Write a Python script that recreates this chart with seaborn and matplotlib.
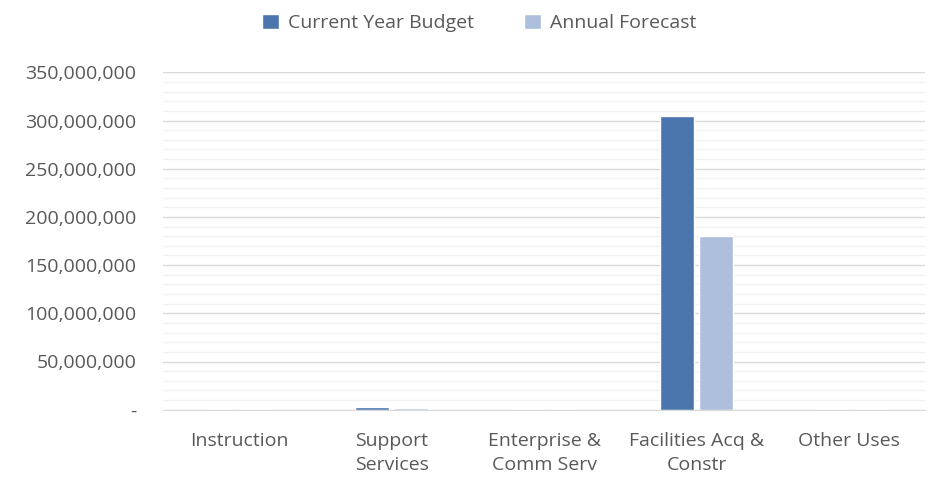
import pandas as pd
import matplotlib.pyplot as plt
import seaborn as sns
from matplotlib.ticker import FuncFormatter, MultipleLocator

# values
categories = ['Instruction', 'Support\nServices', 'Enterprise &\nComm Serv',
              'Facilities Acq &\nConstr', 'Other Uses']
current_budget = [0, 2500000, 0, 304800000, 0]
annual_forecast = [0, 1500000, 0, 180400000, 0]
series_names = ['Current Year Budget', 'Annual Forecast']
colors = ['#4a76ad', '#adbfdc']

df = pd.DataFrame({
    'Category': categories * 2,
    'Series': [series_names[0]] * 5 + [series_names[1]] * 5,
    'Value': current_budget + annual_forecast,
})

sns.set_style('white')
plt.rcParams['font.family'] = ['Open Sans', 'DejaVu Sans']

fig, ax = plt.subplots(figsize=(9.3, 4.82), dpi=100)
fig.subplots_adjust(left=0.175, right=0.995, top=0.85, bottom=0.15)

sns.barplot(data=df, x='Category', y='Value', hue='Series', palette=colors,
            width=0.51, gap=0.12, ax=ax, saturation=1)

ax.set_ylim(0, 350000000)
ax.yaxis.set_major_locator(MultipleLocator(50000000))
ax.yaxis.set_minor_locator(MultipleLocator(10000000))
ax.yaxis.set_major_formatter(FuncFormatter(lambda v, p: '-' if v == 0 else f'{v:,.0f}'))
ax.grid(axis='y', which='major', color='#d9d9d9', linewidth=1)
ax.grid(axis='y', which='minor', color='#f2f2f2', linewidth=1)
ax.set_axisbelow(True)
for s in ['top', 'right', 'left']:
    ax.spines[s].set_visible(False)
ax.spines['bottom'].set_color('#d9d9d9')
ax.tick_params(axis='both', which='both', length=0, labelsize=14, colors='#595959')
ax.tick_params(axis='x', pad=16)
ax.tick_params(axis='y', pad=19)
for lbl in ax.get_xticklabels():
    lbl.set_linespacing(1.45)
ax.set_xlabel('')
ax.set_ylabel('')

ax.legend(loc='upper center', bbox_to_anchor=(0.415, 1.225), ncol=2, frameon=False,
          fontsize=14, labelcolor='#595959', handlelength=0.85, handleheight=0.85,
          handletextpad=0.45, columnspacing=2.6)

plt.savefig('out.png', dpi=100)
